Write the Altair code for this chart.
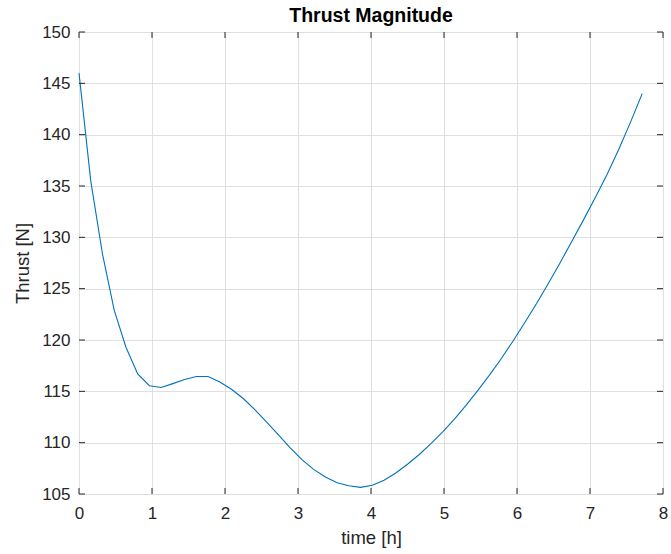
import altair as alt
import pandas as pd

# Thrust history sampled along the trajectory
time_h = [0.000, 0.161, 0.321, 0.482, 0.643, 0.804, 0.964, 1.125, 1.286, 1.446,
          1.607, 1.768, 1.929, 2.089, 2.250, 2.411, 2.571, 2.732, 2.893, 3.054,
          3.214, 3.375, 3.536, 3.696, 3.857, 4.018, 4.179, 4.339, 4.500, 4.661,
          4.821, 4.982, 5.143, 5.304, 5.464, 5.625, 5.786, 5.946, 6.107, 6.268,
          6.429, 6.589, 6.750, 6.911, 7.071, 7.232, 7.393, 7.554, 7.715]
thrust_n = [146.0, 135.5, 128.4, 122.9, 119.3, 116.7, 115.55, 115.37, 115.75, 116.15,
            116.45, 116.45, 115.9, 115.2, 114.3, 113.2, 112.0, 110.75, 109.5, 108.35,
            107.4, 106.65, 106.1, 105.8, 105.65, 105.85, 106.35, 107.05, 107.9, 108.85,
            109.9, 111.05, 112.3, 113.65, 115.1, 116.6, 118.2, 119.9, 121.7, 123.55,
            125.5, 127.5, 129.6, 131.7, 133.85, 136.1, 138.55, 141.2, 144.0]

x_ticks = [0, 1, 2, 3, 4, 5, 6, 7, 8]
y_ticks = [105, 110, 115, 120, 125, 130, 135, 140, 145, 150]

W, H = 584, 462
FONT = "Liberation Sans"
INK = "#262626"
TICK_LEN = 6

df = pd.DataFrame({"time": time_h, "thrust": thrust_n})
xt = pd.DataFrame({"time": x_ticks})
yt = pd.DataFrame({"thrust": y_ticks})

xscale = alt.Scale(domain=[0, 8], nice=False, zero=False)
yscale = alt.Scale(domain=[105, 150], nice=False, zero=False)
axis_style = dict(ticks=False, domain=False, format="d", labelFlush=False,
                  labelFont=FONT, titleFont=FONT, labelFontSize=17, titleFontSize=18.5,
                  labelColor=INK, titleColor=INK, titleFontWeight="normal",
                  gridColor="#dfdfdf", gridWidth=1)
xaxis = alt.Axis(values=x_ticks, title="time [h]", labelPadding=11, titlePadding=7,
                 **axis_style)
yaxis = alt.Axis(values=y_ticks, title="Thrust [N]", labelPadding=9, titlePadding=9,
                 **axis_style)

line = alt.Chart(df).mark_line(color="#0072BD", strokeWidth=1.1).encode(
    x=alt.X("time:Q", scale=xscale, axis=xaxis),
    y=alt.Y("thrust:Q", scale=yscale, axis=yaxis),
)

# inward tick marks on all four sides of the box
x_bottom = alt.Chart(xt).mark_rule(color=INK, strokeWidth=1).encode(
    x=alt.X("time:Q", scale=xscale, axis=xaxis), y=alt.value(H), y2=alt.value(H - TICK_LEN))
x_top = alt.Chart(xt).mark_rule(color=INK, strokeWidth=1).encode(
    x=alt.X("time:Q", scale=xscale, axis=xaxis), y=alt.value(0), y2=alt.value(TICK_LEN))
y_left = alt.Chart(yt).mark_rule(color=INK, strokeWidth=1).encode(
    y=alt.Y("thrust:Q", scale=yscale, axis=yaxis), x=alt.value(0), x2=alt.value(TICK_LEN))
y_right = alt.Chart(yt).mark_rule(color=INK, strokeWidth=1).encode(
    y=alt.Y("thrust:Q", scale=yscale, axis=yaxis), x=alt.value(W), x2=alt.value(W - TICK_LEN))

chart = alt.layer(line, x_bottom, x_top, y_left, y_right).properties(
    width=W, height=H,
    title=alt.TitleParams("Thrust Magnitude", font=FONT, fontSize=19.5, fontWeight="bold",
                          color="#000000", anchor="middle", offset=-3),
    autosize=alt.AutoSizeParams(type="none"),
    padding={"left": 79, "top": 32, "right": 8, "bottom": 60},
).configure_view(
    stroke=INK, strokeWidth=1
).configure(background="white")

chart.save("out.html", embed_options={"renderer": "svg", "actions": False})
